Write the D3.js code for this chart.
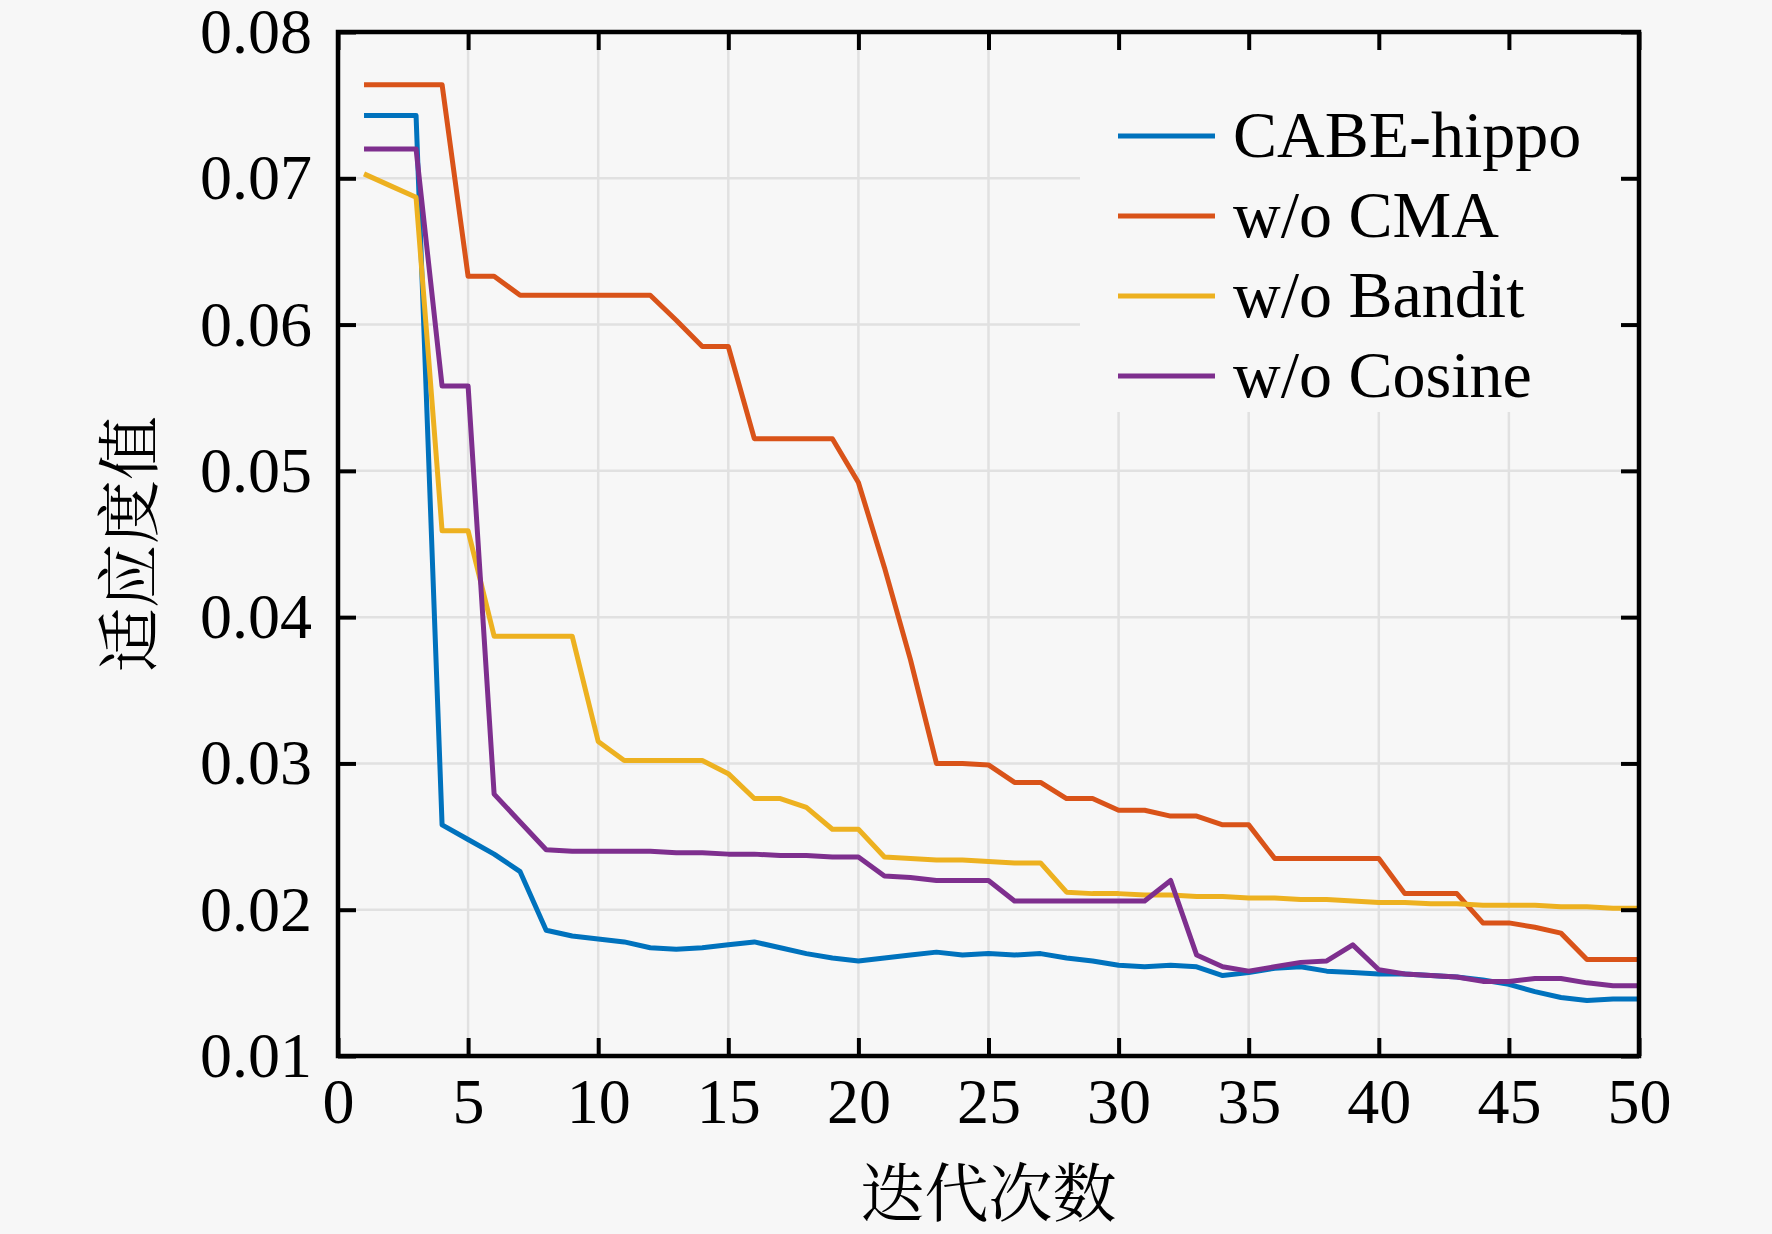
<!DOCTYPE html>
<html>
<head>
<meta charset="utf-8">
<script src="https://cdn.jsdelivr.net/npm/d3@7/dist/d3.min.js"></script>
<style>
  html, body { margin: 0; padding: 0; background: #f7f7f7; }
  svg { display: block; }
</style>
</head>
<body>
<svg id="chart" width="1772" height="1234"></svg>
<script>
// ---------------- data ----------------
const iterations = d3.range(1, 51);
const seriesNames = ["CABE-hippo", "w/o CMA", "w/o Bandit", "w/o Cosine"];
const seriesColors = ["#0072BD", "#D95319", "#EDB120", "#7E2F8E"];

const cabeHippo = [0.0743,0.0743,0.0743,0.0258,0.0248,0.0238,0.0226,0.0186,0.0182,0.0180,
  0.0178,0.0174,0.0173,0.0174,0.0176,0.0178,0.0174,0.0170,0.0167,0.0165,
  0.0167,0.0169,0.0171,0.0169,0.0170,0.0169,0.0170,0.0167,0.0165,0.0162,
  0.0161,0.0162,0.0161,0.0155,0.0157,0.0160,0.0161,0.0158,0.0157,0.0156,
  0.0156,0.0155,0.0154,0.0152,0.0149,0.0144,0.0140,0.0138,0.0139,0.0139];
const woCMA = [0.0764,0.0764,0.0764,0.0764,0.0633,0.0633,0.0620,0.0620,0.0620,0.0620,
  0.0620,0.0620,0.0603,0.0585,0.0585,0.0522,0.0522,0.0522,0.0522,0.0492,
  0.0434,0.0371,0.0300,0.0300,0.0299,0.0287,0.0287,0.0276,0.0276,0.0268,
  0.0268,0.0264,0.0264,0.0258,0.0258,0.0235,0.0235,0.0235,0.0235,0.0235,
  0.0211,0.0211,0.0211,0.0191,0.0191,0.0188,0.0184,0.0166,0.0166,0.0166];
const woBandit = [0.0703,0.0695,0.0687,0.0459,0.0459,0.0387,0.0387,0.0387,0.0387,0.0315,
  0.0302,0.0302,0.0302,0.0302,0.0293,0.0276,0.0276,0.0270,0.0255,0.0255,
  0.0236,0.0235,0.0234,0.0234,0.0233,0.0232,0.0232,0.0212,0.0211,0.0211,
  0.0210,0.0210,0.0209,0.0209,0.0208,0.0208,0.0207,0.0207,0.0206,0.0205,
  0.0205,0.0204,0.0204,0.0203,0.0203,0.0203,0.0202,0.0202,0.0201,0.0201];
const woCosine = [0.0720,0.0720,0.0720,0.0558,0.0558,0.0279,0.0260,0.0241,0.0240,0.0240,
  0.0240,0.0240,0.0239,0.0239,0.0238,0.0238,0.0237,0.0237,0.0236,0.0236,
  0.0223,0.0222,0.0220,0.0220,0.0220,0.0206,0.0206,0.0206,0.0206,0.0206,
  0.0206,0.0220,0.0169,0.0161,0.0158,0.0161,0.0164,0.0165,0.0176,0.0159,
  0.0156,0.0155,0.0154,0.0151,0.0151,0.0153,0.0153,0.0150,0.0148,0.0148];

const xTicks = [0,5,10,15,20,25,30,35,40,45,50];
const yTicks = [0.01,0.02,0.03,0.04,0.05,0.06,0.07,0.08];
const xTitle = "迭代次数";
const yTitle = "适应度值";

// ---------------- layout ----------------
const W = 1772, H = 1234;
const pLeft = 338, pRight = 1639, pTop = 32, pBottom = 1056;
const bg = "#f7f7f7";
const serif = "'Liberation Serif','Times New Roman',serif";
const cjk = "'Noto Serif CJK SC','Noto Sans CJK SC',serif";

const svg = d3.select("#chart");
svg.append("rect").attr("width", W).attr("height", H).attr("fill", bg);

const x = d3.scaleLinear().domain([0, 50]).range([pLeft, pRight]);
const y = d3.scaleLinear().domain([0.01, 0.08]).range([pBottom, pTop]);

// grid
const grid = svg.append("g").attr("stroke", "#e1e1e1").attr("stroke-width", 2.5);
xTicks.slice(1, -1).forEach(t => grid.append("line")
  .attr("x1", x(t)).attr("x2", x(t)).attr("y1", pTop).attr("y2", pBottom));
yTicks.slice(1, -1).forEach(t => grid.append("line")
  .attr("x1", pLeft).attr("x2", pRight).attr("y1", y(t)).attr("y2", y(t)));

// legend background (hides grid beneath)
svg.append("rect").attr("x", 1080).attr("y", pTop + 3).attr("width", 552).attr("height", 377)
  .attr("fill", bg);

// clip
svg.append("clipPath").attr("id", "clip").append("rect")
  .attr("x", pLeft).attr("y", pTop).attr("width", pRight - pLeft).attr("height", pBottom - pTop);

const allSeries = [cabeHippo, woCMA, woBandit, woCosine];
const line = d3.line().x((d, i) => x(iterations[i])).y(d => y(d));
const lines = svg.append("g").attr("clip-path", "url(#clip)");
allSeries.forEach((s, k) => {
  lines.append("path").datum(s).attr("d", line)
    .attr("fill", "none").attr("stroke", seriesColors[k])
    .attr("stroke-width", 5).attr("stroke-linejoin", "round");
});

// axes
const tickLen = 18;
const fmtY = d3.format(".2f");
const gx = svg.append("g").attr("transform", `translate(0,${pBottom})`)
  .call(d3.axisBottom(x).tickValues(xTicks).tickSize(-tickLen).tickPadding(22).tickFormat(d3.format("d")));
const gxt = svg.append("g").attr("transform", `translate(0,${pTop})`)
  .call(d3.axisTop(x).tickValues(xTicks).tickSize(-tickLen).tickFormat(""));
const gy = svg.append("g").attr("transform", `translate(${pLeft},0)`)
  .call(d3.axisLeft(y).tickValues(yTicks).tickSize(-tickLen).tickPadding(26).tickFormat(fmtY));
const gyr = svg.append("g").attr("transform", `translate(${pRight},0)`)
  .call(d3.axisRight(y).tickValues(yTicks).tickSize(-tickLen).tickFormat(""));
[gx, gxt, gy, gyr].forEach(g => {
  g.select(".domain").remove();
  g.selectAll(".tick line").attr("stroke", "#000").attr("stroke-width", 4);
  g.selectAll(".tick text").attr("fill", "#000").attr("font-family", serif).attr("font-size", 64);
});

// box
svg.append("rect").attr("x", pLeft).attr("y", pTop).attr("width", pRight - pLeft).attr("height", pBottom - pTop)
  .attr("fill", "none").attr("stroke", "#000").attr("stroke-width", 4.5);

// titles
svg.append("text").attr("x", (pLeft + pRight) / 2).attr("y", 1216)
  .attr("text-anchor", "middle").attr("font-family", cjk).attr("font-size", 64)
  .attr("fill", "#000").text(xTitle);
svg.append("text").attr("transform", `translate(152,${(pTop + pBottom) / 2}) rotate(-90)`)
  .attr("text-anchor", "middle").attr("font-family", cjk).attr("font-size", 64)
  .attr("fill", "#000").text(yTitle);

// legend
const legend = svg.append("g");
seriesNames.forEach((name, k) => {
  const cy = 136 + k * 80;
  legend.append("line").attr("x1", 1118).attr("x2", 1215).attr("y1", cy).attr("y2", cy)
    .attr("stroke", seriesColors[k]).attr("stroke-width", 5);
  legend.append("text").attr("x", 1233).attr("y", cy + 21)
    .attr("font-family", serif).attr("font-size", 66).attr("fill", "#000").text(name);
});
</script>
</body>
</html>
